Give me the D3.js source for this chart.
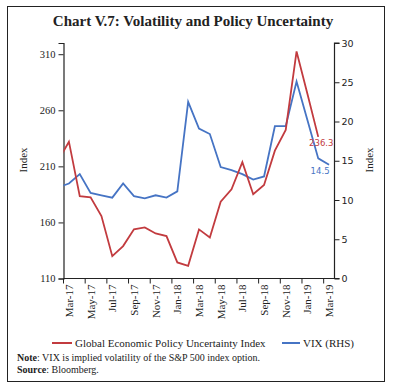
<!DOCTYPE html>
<html>
<head>
<meta charset="utf-8">
<script src="https://cdn.jsdelivr.net/npm/d3@7"></script>
<style>
  body { margin: 0; background: #fff; }
  svg { display: block; font-family: "Liberation Serif", "DejaVu Serif", serif; }
</style>
</head>
<body>
<script>
// Months shown on the axis (Feb-17 only exists so the line runs in from the left edge)
const months = ["Feb-17","Mar-17","Apr-17","May-17","Jun-17","Jul-17","Aug-17","Sep-17","Oct-17","Nov-17","Dec-17",
  "Jan-18","Feb-18","Mar-18","Apr-18","May-18","Jun-18","Jul-18","Aug-18","Sep-18","Oct-18","Nov-18","Dec-18",
  "Jan-19","Feb-19","Mar-19"];

// Global Economic Policy Uncertainty Index (left axis), ends Feb-19
const gepu = [215, 232, 183.5, 182.4, 165.7, 129.9, 138.9, 153.8, 155.6, 150.2, 147.8,
  124.3, 121.3, 153.8, 146.6, 178.5, 189.5, 213.7, 185.1, 193.4, 224.0, 242.5, 312.5,
  274.7, 236.3];

// VIX (right axis), ends Mar-19
const vix = [11.6, 12.1, 13.3, 10.9, 10.6, 10.3, 12.1, 10.5, 10.2, 10.6, 10.3,
  11.1, 22.5, 19.1, 18.4, 14.2, 13.8, 13.3, 12.6, 13.0, 19.4, 19.4, 25.1,
  20.2, 15.3, 14.5];

const leftTicks = [110, 160, 210, 260, 310];
const rightTicks = [0, 5, 10, 15, 20, 25, 30];
const xLabels = ["Mar-17","May-17","Jul-17","Sep-17","Nov-17","Jan-18","Mar-18","May-18","Jul-18","Sep-18","Nov-18","Jan-19","Mar-19"];

const red = "#c23b3f";
const blue = "#4674c4";

const W = 393, H = 389;
const plot = { left: 63.5, right: 334.5, top: 43, bottom: 278.5 };

const svg = d3.select("body").append("svg").attr("width", W).attr("height", H);

// frame
svg.append("rect").attr("x", 7.5).attr("y", 6.5).attr("width", 377).attr("height", 375)
  .attr("fill", "none").attr("stroke", "#222").attr("stroke-width", 1);

svg.append("text").attr("x", 193).attr("y", 26).attr("text-anchor", "middle")
  .attr("font-size", 15).attr("font-weight", "bold").attr("fill", "#222")
  .text("Chart V.7: Volatility and Policy Uncertainty");

// x: band per month, Mar-17..Mar-19 visible
const shown = months.slice(1);
const x = d3.scaleBand().domain(shown).range([plot.left, plot.right]);
const bw = x.bandwidth();
const xc = m => m === "Feb-17" ? x("Mar-17") - bw / 2 : x(m) + bw / 2;

const yL = d3.scaleLinear().domain([110, 320]).range([plot.bottom, plot.top]);
const yR = d3.scaleLinear().domain([0, 30]).range([plot.bottom, plot.top]);

svg.append("defs").append("clipPath").attr("id", "clip")
  .append("rect").attr("x", plot.left).attr("y", 0)
  .attr("width", plot.right - plot.left).attr("height", H);

// left axis
const gl = svg.append("g").attr("transform", `translate(${plot.left},0)`)
  .call(d3.axisLeft(yL).tickValues(leftTicks).tickSize(5).tickPadding(3));
// right axis
const gr = svg.append("g").attr("transform", `translate(${plot.right},0)`)
  .call(d3.axisRight(yR).tickValues(rightTicks).tickSize(5).tickPadding(2));
[gl, gr].forEach(g => {
  g.select(".domain").attr("stroke", "#222").attr("stroke-width", 1.2);
  g.selectAll(".tick line").attr("stroke", "#222");
  g.selectAll("text").attr("font-family", "Liberation Serif, serif").attr("font-size", 10.5).attr("fill", "#222");
});
gr.selectAll("text").attr("font-family", "DejaVu Sans, sans-serif").attr("font-size", 9.5);
gr.select(".domain").attr("d", `M5,${plot.top}H0V${plot.bottom}H5`);

// bottom axis: ticks every two months, labels in first month of each pair
const gx = svg.append("g").attr("transform", `translate(0,${plot.bottom})`);
gx.append("line").attr("x1", plot.left).attr("x2", plot.right).attr("stroke", "#222").attr("stroke-width", 1.2);
shown.forEach((m, i) => {
  if (i % 2 === 0) {
    gx.append("line").attr("x1", x(m)).attr("x2", x(m)).attr("y1", 0).attr("y2", 5).attr("stroke", "#222");
  }
});
gx.selectAll("text.xl").data(xLabels).join("text")
  .attr("class", "xl")
  .attr("transform", d => `translate(${x(d) + bw / 2 + 4},${6}) rotate(-90)`)
  .attr("text-anchor", "end").attr("font-size", 11).attr("fill", "#222")
  .text(d => d);

// axis titles
svg.append("text").attr("transform", `translate(27,160) rotate(-90)`).attr("text-anchor", "middle")
  .attr("font-size", 11).attr("fill", "#222").text("Index");
svg.append("text").attr("transform", `translate(373,160) rotate(-90)`).attr("text-anchor", "middle")
  .attr("font-size", 11).attr("fill", "#222").text("Index");

// lines
const lineL = d3.line().x((d, i) => xc(months[i])).y(d => yL(d));
const lineR = d3.line().x((d, i) => xc(months[i])).y(d => yR(d));
const lines = svg.append("g").attr("clip-path", "url(#clip)");
lines.append("path").attr("d", lineR(vix)).attr("fill", "none").attr("stroke", blue).attr("stroke-width", 1.8);
lines.append("path").attr("d", lineL(gepu)).attr("fill", "none").attr("stroke", red).attr("stroke-width", 1.8);

// end labels
const lastG = gepu.length - 1, lastV = vix.length - 1;
svg.append("text").attr("x", xc(months[lastG]) + 3).attr("y", yL(gepu[lastG]) + 9)
  .attr("text-anchor", "middle").attr("font-family", "DejaVu Sans, sans-serif").attr("font-size", 8.5)
  .attr("fill", red).text(gepu[lastG]);
svg.append("text").attr("x", xc(months[lastV]) - 9).attr("y", yR(vix[lastV]) + 9)
  .attr("text-anchor", "middle").attr("font-family", "DejaVu Sans, sans-serif").attr("font-size", 8.5)
  .attr("fill", blue).text(vix[lastV]);

// legend
const lg = svg.append("g").attr("transform", "translate(0,343)");
lg.append("line").attr("x1", 52).attr("x2", 72).attr("stroke", red).attr("stroke-width", 2);
lg.append("text").attr("x", 75).attr("y", 4).attr("font-size", 11).attr("fill", "#222")
  .text("Global Economic Policy Uncertainty Index");
lg.append("line").attr("x1", 282).attr("x2", 300).attr("stroke", blue).attr("stroke-width", 2);
lg.append("text").attr("x", 303).attr("y", 4).attr("font-size", 11).attr("fill", "#222").text("VIX (RHS)");

// note / source
const n1 = svg.append("text").attr("x", 17).attr("y", 361).attr("font-size", 10).attr("fill", "#222");
n1.append("tspan").attr("font-weight", "bold").text("Note");
n1.append("tspan").text(": VIX is implied volatility of the S&P 500 index option.");
const n2 = svg.append("text").attr("x", 17).attr("y", 373).attr("font-size", 10).attr("fill", "#222");
n2.append("tspan").attr("font-weight", "bold").text("Source");
n2.append("tspan").text(": Bloomberg.");
</script>
</body>
</html>
